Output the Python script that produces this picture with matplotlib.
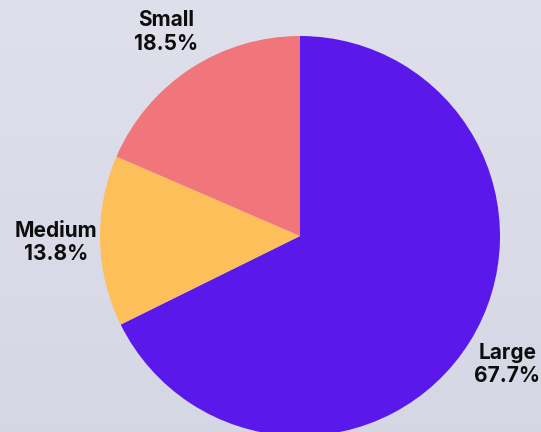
import numpy as np
import matplotlib.pyplot as plt

# ── Data ──
categories = ["Large", "Medium", "Small"]
shares = [67.7, 13.8, 18.5]
colors = ["#5B18EA", "#FDBF5A", "#F0767C"]

plt.rcParams["font.family"] = ["Inter", "DejaVu Sans"]

fig = plt.figure(figsize=(5.41, 4.32), dpi=100)

# soft background gradient
bg = fig.add_axes([0, 0, 1, 1], zorder=-1)
grad = np.linspace(0, 1, 256).reshape(-1, 1)
top = np.array([0.878, 0.878, 0.925])
bottom = np.array([0.839, 0.843, 0.898])
img = top + (bottom - top) * grad[..., None]
bg.imshow(img, aspect="auto", extent=[0, 1, 0, 1])
bg.axis("off")

ax = fig.add_axes([100 / 541, -4 / 432, 400 / 541, 400 / 432])
labels = [f"{c}\n{s:.1f}%" for c, s in zip(categories, shares)]
wedges, texts = ax.pie(
    shares, labels=labels, colors=colors, startangle=90, counterclock=False,
    labeldistance=1.22,
    textprops=dict(fontsize=15, fontweight="bold", color="#0d0d0d"),
)
for t in texts:
    t.set_ha("center")
    t.set_va("center")
    t.set_multialignment("center")
    t.set_linespacing(1.2)
ax.set_xlim(-1, 1)
ax.set_ylim(-1, 1)
ax.set_aspect("equal")

fig.savefig("out.png", dpi=100)
